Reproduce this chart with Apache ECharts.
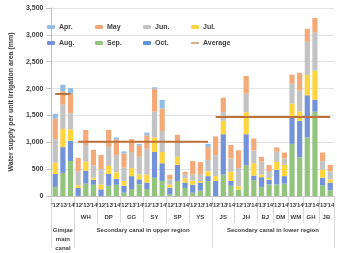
<!DOCTYPE html>
<html>
<head>
<meta charset="utf-8">
<script src="https://cdn.jsdelivr.net/npm/echarts@6/dist/echarts.min.js"></script>
<style>
  html, body { margin: 0; padding: 0; background: #fff; }
  #chart { width: 337px; height: 253px; }
</style>
</head>
<body>
<div id="chart"></div>
<script>
// bar labels (year of each bar)
const years = [
    "'12", "'13", "'14",  "'12", "'13", "'14",  "'12", "'13", "'14",
    "'12", "'13", "'14",  "'12", "'13", "'14",  "'12", "'13", "'14",
    "'12", "'13", "'14",  "'12", "'13", "'14",  "'12", "'13", "'14",
    "'13", "'14",  "'13", "'14",  "'13", "'14",  "'13", "'14",  "'13", "'14"
];
const groupNames = ["", "WH", "DP", "GG", "SY", "SP", "YS", "JS", "JH", "BJ", "DM", "WM", "GH", "JB"];
const groupSizes = [3, 3, 3, 3, 3, 3, 3, 3, 3, 2, 2, 2, 2, 2];
const regionNames = ["Gimjae\nmain\ncanal", "Secondary canal in upper region", "Secondary canal in lower region"];
const regionSizes = [3, 18, 16];
const regionAverage = [1900, 1010, 1470];

// monthly water supply (mm)
const apr = [90, 120, 110, 0, 0, 0, 0, 0, 40, 40, 0, 30, 50, 30, 160, 0, 0, 0, 0, 0, 60, 0, 0, 0, 0, 0, 0, 0, 0, 0, 0, 0, 0, 0, 0, 0, 0];
const may = [380, 250, 360, 250, 280, 290, 265, 320, 290, 260, 240, 210, 250, 425, 420, 90, 150, 45, 250, 220, 240, 350, 270, 250, 330, 330, 220, 90, 110, 80, 110, 170, 330, 240, 270, 160, 120];
const jun = [440, 450, 300, 260, 310, 230, 285, 350, 320, 250, 300, 330, 480, 480, 390, 90, 260, 75, 110, 130, 210, 390, 160, 250, 340, 345, 240, 240, 130, 190, 120, 370, 390, 615, 710, 160, 150];
const jul = [210, 340, 210, 50, 170, 40, 90, 150, 120, 90, 150, 90, 150, 270, 210, 60, 150, 80, 80, 30, 90, 90, 250, 170, 60, 410, 230, 50, 30, 150, 210, 240, 175, 380, 540, 150, 60];
const aug = [240, 480, 380, 150, 240, 90, 125, 220, 110, 130, 240, 90, 120, 480, 330, 125, 300, 100, 150, 150, 90, 280, 750, 90, 0, 580, 85, 180, 90, 270, 140, 510, 680, 785, 225, 140, 140];
const sep = [170, 430, 650, 0, 230, 210, 0, 190, 210, 60, 130, 220, 130, 340, 280, 30, 280, 150, 60, 100, 280, 0, 400, 190, 120, 570, 295, 170, 215, 215, 230, 970, 720, 1090, 1570, 200, 110];
const oct = [0, 0, 0, 0, 0, 0, 0, 0, 0, 0, 0, 0, 0, 0, 0, 0, 0, 0, 0, 0, 0, 0, 0, 0, 0, 0, 0, 0, 0, 0, 0, 0, 0, 0, 0, 0, 0];

const yTicks = [0, 500, 1000, 1500, 2000, 2500, 3000, 3500];

function boundsOf(sizes) {
    const b = [0];
    sizes.forEach(function (s) { b.push(b[b.length - 1] + s); });
    return b;
}
const groupBounds = boundsOf(groupSizes);
const regionBounds = boundsOf(regionSizes);
const groupCenters = groupSizes.map(function (s, i) { return groupBounds[i] + s / 2; });
const regionCenters = regionSizes.map(function (s, i) { return regionBounds[i] + s / 2; });

const font = "Liberation Sans";
const textColor = "#404040";

function barSeries(name, data, color) {
    return {
        name: name,
        type: "bar",
        stack: "total",
        data: data,
        barWidth: "68%",
        itemStyle: { color: color },
    };
}

function averageSeries(r) {
    const data = years.map(function (y, i) {
        return i >= regionBounds[r] && i < regionBounds[r + 1] ? regionAverage[r] : "-";
    });
    return {
        name: "Average",
        type: "line",
        data: data,
        symbol: "none",
        lineStyle: { color: "#C0703A", width: 2 },
        itemStyle: { color: "#C0703A" },
        z: 5,
    };
}

const chart = echarts.init(document.getElementById("chart"));
const option = {
    animation: false,
    textStyle: { fontFamily: font },
    grid: { left: 34, right: 1, top: 8, bottom: 51 },
    legend: {
        left: 42,
        top: 14,
        width: 200,
        itemWidth: 8,
        itemHeight: 4,
        itemGap: 0,
        data: [
            { name: "Apr." }, { name: "May" }, { name: "Jun." }, { name: "Jul." },
            { name: "Aug." }, { name: "Sep." }, { name: "Oct." },
            { name: "Average", icon: "path://M0,4L14,4L14,6L0,6Z" },
        ],
        textStyle: {
            fontSize: 7, fontWeight: "bold", color: textColor, width: 36, lineHeight: 16, padding: [0, 0, 0, -1],
        },
    },
    xAxis: [
        {
            type: "category",
            data: years,
            axisLine: { lineStyle: { color: "#BFBFBF" } },
            axisTick: { show: false },
            axisLabel: { interval: 0, fontSize: 6, fontWeight: "bold", color: textColor, margin: 6 },
        },
        {
            type: "value",
            min: 0,
            max: 37,
            position: "bottom",
            axisLine: { show: false },
            splitLine: { show: false },
            axisTick: { show: true, customValues: groupBounds, length: 27, lineStyle: { color: "#D9D9D9" } },
            axisLabel: {
                customValues: groupCenters,
                formatter: function (v) {
                    const i = groupCenters.indexOf(v);
                    return i >= 0 ? groupNames[i] : "";
                },
                fontSize: 6, fontWeight: "bold", color: textColor, margin: 18,
            },
        },
        {
            type: "value",
            min: 0,
            max: 37,
            position: "bottom",
            axisLine: { show: false },
            splitLine: { show: false },
            axisTick: { show: true, customValues: regionBounds, length: 52, lineStyle: { color: "#D9D9D9" } },
            axisLabel: {
                customValues: regionCenters,
                formatter: function (v) {
                    const i = regionCenters.indexOf(v);
                    return i >= 0 ? regionNames[i] : "";
                },
                fontSize: 6, fontWeight: "bold", color: textColor, margin: 30, lineHeight: 9,
            },
        },
    ],
    yAxis: {
        type: "value",
        min: yTicks[0],
        max: yTicks[yTicks.length - 1],
        interval: 500,
        name: "Water supply per unit irrigation area (mm)",
        nameLocation: "middle",
        nameGap: 24,
        nameTextStyle: { fontSize: 7, fontWeight: "bold", color: textColor },
        axisLine: { show: true, lineStyle: { color: "#BFBFBF" } },
        splitLine: { lineStyle: { color: "#E3E3E3" } },
        axisLabel: {
            fontSize: 7, fontWeight: "bold", color: textColor, margin: 8,
            formatter: function (v) { return v.toLocaleString("en-US"); },
        },
    },
    series: [
        barSeries("Sep.", sep, "#93C47D"),
        barSeries("Aug.", aug, "#7393D9"),
        barSeries("Jul.", jul, "#FFD53F"),
        barSeries("Jun.", jun, "#C3C3C3"),
        barSeries("May", may, "#F4A978"),
        barSeries("Apr.", apr, "#92BDE6"),
        barSeries("Oct.", oct, "#5F93D3"),
        averageSeries(0),
        averageSeries(1),
        averageSeries(2),
    ],
};
chart.setOption(option);
</script>
</body>
</html>
